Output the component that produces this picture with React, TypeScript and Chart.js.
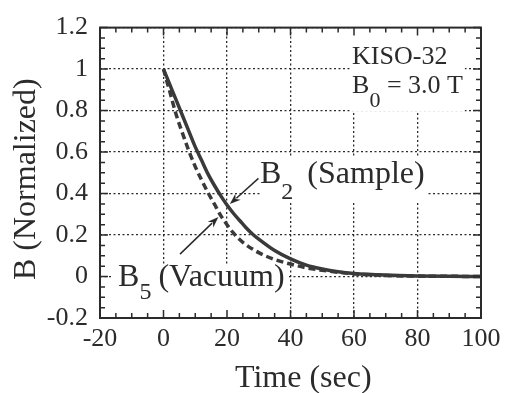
import React, { useEffect, useRef } from "react";
import { Chart, registerables } from "chart.js";

Chart.register(...registerables);

// ---- data ----
const sampleTime = [0, 2, 4, 6, 8, 10, 12, 14, 16, 18, 20, 22, 24, 26, 28, 30, 35, 40, 45, 50, 55, 60, 70, 80, 90, 100];
const sampleB = [1, 0.925, 0.85, 0.775, 0.7, 0.625, 0.56, 0.495, 0.44, 0.39, 0.345, 0.305, 0.27, 0.235, 0.205, 0.18, 0.125, 0.085, 0.055, 0.036, 0.023, 0.015, 0.007, 0.003, 0.001, 0];

const vacuumTime = [0, 2, 4, 6, 8, 10, 12, 14, 16, 18, 20, 22, 25, 30, 35, 40, 45, 50, 60, 70, 80, 90, 100];
const vacuumB = [1, 0.89, 0.78, 0.69, 0.605, 0.53, 0.465, 0.405, 0.35, 0.295, 0.25, 0.21, 0.165, 0.115, 0.082, 0.06, 0.042, 0.03, 0.013, 0.005, 0.002, 0.001, 0];

const xTicks = [-20, 0, 20, 40, 60, 80, 100];
const xTickLabels = ["-20", "0", "20", "40", "60", "80", "100"];
const yTicks = [-0.2, 0, 0.2, 0.4, 0.6, 0.8, 1, 1.2];
const yTickLabels = ["-0.2", "0", "0.2", "0.4", "0.6", "0.8", "1", "1.2"];

const xTitle = "Time (sec)";
const yTitle = "B (Normalized)";
const infoLine1 = "KISO-32";
const infoLine2 = { main: "B", sub: "0", rest: " = 3.0 T" };
const sampleLabel = { main: "B", sub: "2", rest: "(Sample)" };
const vacuumLabel = { main: "B", sub: "5", rest: "(Vacuum)" };

// ---- styles / layout (data coordinates for annotations) ----
const FONT = "'Liberation Serif', 'Times New Roman', Times, serif";
const INK = "#2b2b2b";
const CURVE = "#3a3a3a";

const infoBox = { x0: 58.7, x1: 94.9, y0: 1.2, y1: 0.795 };
const infoPos1 = { x: 59.4, y: 1.023 };
const infoPos2 = { x: 59.4, y: 0.884 };
const sampleBox = { x0: 31.0, x1: 83.0, y0: 0.572, y1: 0.363 };
const samplePos = { x: 30.4, y: 0.451 };
const vacuumBox = { x0: -15.9, x1: 39.3, y0: 0.06, y1: -0.2 };
const vacuumPos = { x: -14.3, y: -0.047 };
const sampleArrow = { fromX: 29.9, fromY: 0.473, toX: 20.9, toY: 0.349 };
const vacuumArrow = { fromX: 5.2, fromY: 0.108, toX: 17.3, toY: 0.287 };

function drawLabel(ctx, x, y, lab, size, subSize, subDrop, gap) {
  ctx.textAlign = "left";
  ctx.textBaseline = "alphabetic";
  ctx.font = `${size}px ${FONT}`;
  ctx.fillText(lab.main, x, y);
  let cx = x + ctx.measureText(lab.main).width;
  ctx.font = `${subSize}px ${FONT}`;
  ctx.fillText(lab.sub, cx, y + subDrop);
  cx += ctx.measureText(lab.sub).width + gap;
  ctx.font = `${size}px ${FONT}`;
  ctx.fillText(lab.rest, cx, y);
}

function drawArrow(ctx, x1, y1, x2, y2) {
  const ang = Math.atan2(y2 - y1, x2 - x1);
  const len = 11;
  const hw = 4;
  ctx.strokeStyle = INK;
  ctx.fillStyle = INK;
  ctx.lineWidth = 1.5;
  ctx.setLineDash([]);
  ctx.beginPath();
  ctx.moveTo(x1, y1);
  ctx.lineTo(x2 - Math.cos(ang) * len * 0.8, y2 - Math.sin(ang) * len * 0.8);
  ctx.stroke();
  ctx.beginPath();
  ctx.moveTo(x2, y2);
  ctx.lineTo(x2 - Math.cos(ang) * len - Math.sin(ang) * hw, y2 - Math.sin(ang) * len + Math.cos(ang) * hw);
  ctx.lineTo(x2 - Math.cos(ang) * len * 0.7, y2 - Math.sin(ang) * len * 0.7);
  ctx.lineTo(x2 - Math.cos(ang) * len + Math.sin(ang) * hw, y2 - Math.sin(ang) * len - Math.cos(ang) * hw);
  ctx.closePath();
  ctx.fill();
}

const annotPlugin = {
  id: "annot",
  beforeDatasetsDraw(chart) {
    const { ctx, scales } = chart;
    const xs = scales.x;
    const ys = scales.y;
    ctx.save();
    ctx.fillStyle = "#ffffff";
    for (const b of [infoBox, sampleBox, vacuumBox]) {
      const x0 = xs.getPixelForValue(b.x0);
      const x1 = xs.getPixelForValue(b.x1);
      const y0 = ys.getPixelForValue(b.y0);
      const y1 = ys.getPixelForValue(b.y1);
      ctx.fillRect(x0, y0, x1 - x0, y1 - y0);
    }
    ctx.restore();
  },
  afterDatasetsDraw(chart) {
    const { ctx, scales, chartArea } = chart;
    const xs = scales.x;
    const ys = scales.y;
    const px = (v) => xs.getPixelForValue(v);
    const py = (v) => ys.getPixelForValue(v);
    ctx.save();
    ctx.fillStyle = INK;

    // info text
    ctx.font = `26px ${FONT}`;
    ctx.textAlign = "left";
    ctx.textBaseline = "alphabetic";
    ctx.fillText(infoLine1, px(infoPos1.x), py(infoPos1.y));
    drawLabel(ctx, px(infoPos2.x), py(infoPos2.y), infoLine2, 26, 22, 14, 0);

    // curve labels
    ctx.fillStyle = INK;
    drawLabel(ctx, px(samplePos.x), py(samplePos.y), sampleLabel, 32, 24, 16, 14);
    drawLabel(ctx, px(vacuumPos.x), py(vacuumPos.y), vacuumLabel, 32, 24, 13, 7);

    drawArrow(ctx, px(sampleArrow.fromX), py(sampleArrow.fromY), px(sampleArrow.toX), py(sampleArrow.toY));
    drawArrow(ctx, px(vacuumArrow.fromX), py(vacuumArrow.fromY), px(vacuumArrow.toX), py(vacuumArrow.toY));

    // frame
    const { left, right, top, bottom } = chartArea;
    ctx.strokeStyle = INK;
    ctx.lineWidth = 2;
    ctx.setLineDash([]);
    ctx.strokeRect(left, top, right - left, bottom - top);

    // inward tick marks (major + minor)
    ctx.lineWidth = 1.5;
    ctx.beginPath();
    for (let i = 0; i <= 24; i++) {
      const v = -20 + i * 5;
      const L = i % 4 === 0 ? 8 : 5;
      const x = px(v);
      ctx.moveTo(x, bottom);
      ctx.lineTo(x, bottom - L);
      ctx.moveTo(x, top);
      ctx.lineTo(x, top + L);
    }
    for (let i = 0; i <= 28; i++) {
      const v = -0.2 + i * 0.05;
      const L = i % 4 === 0 ? 8 : 5;
      const y = py(v);
      ctx.moveTo(left, y);
      ctx.lineTo(left + L, y);
      ctx.moveTo(right, y);
      ctx.lineTo(right - L, y);
    }
    ctx.stroke();

    // axis titles
    ctx.fillStyle = INK;
    ctx.font = `32px ${FONT}`;
    ctx.textAlign = "left";
    ctx.textBaseline = "alphabetic";
    ctx.fillText(xTitle, left + 135, bottom + 69);
    ctx.save();
    ctx.translate(left - 65, bottom - 38);
    ctx.rotate(-Math.PI / 2);
    ctx.fillText(yTitle, 0, 0);
    ctx.restore();

    ctx.restore();
  },
};

export default function App() {
  const ref = useRef<HTMLCanvasElement | null>(null);

  useEffect(() => {
    document.body.style.margin = "0";
    const canvas = ref.current;
    if (!canvas) return;
    const chart = new Chart(canvas, {
      type: "line",
      data: {
        datasets: [
          {
            label: "B2 (Sample)",
            data: sampleTime.map((t, i) => ({ x: t, y: sampleB[i] })),
            borderColor: CURVE,
            borderWidth: 3.5,
            pointRadius: 0,
            cubicInterpolationMode: "monotone",
            fill: false,
          },
          {
            label: "B5 (Vacuum)",
            data: vacuumTime.map((t, i) => ({ x: t, y: vacuumB[i] })),
            borderColor: CURVE,
            borderWidth: 3.5,
            borderDash: [7, 4],
            pointRadius: 0,
            cubicInterpolationMode: "monotone",
            fill: false,
          },
        ],
      },
      options: {
        responsive: false,
        animation: false,
        events: [],
        layout: { padding: { top: 17, right: 39, left: 0, bottom: 0 } },
        plugins: { legend: { display: false }, tooltip: { enabled: false } },
        scales: {
          x: {
            type: "linear",
            min: -20,
            max: 100,
            afterFit: (s) => {
              s.height = 75;
            },
            afterBuildTicks: (s) => {
              s.ticks = xTicks.map((v) => ({ value: v }));
            },
            ticks: {
              callback: (v) => xTickLabels[xTicks.indexOf(v)],
              font: { family: FONT, size: 26 },
              color: INK,
              padding: 6,
              maxRotation: 0,
              autoSkip: false,
            },
            grid: { color: INK, lineWidth: 1.3, drawTicks: false },
            border: { display: false, dash: [2, 2.5] },
          },
          y: {
            type: "linear",
            min: -0.2,
            max: 1.2,
            afterFit: (s) => {
              s.width = 100;
            },
            afterBuildTicks: (s) => {
              s.ticks = yTicks.map((v) => ({ value: v }));
            },
            ticks: {
              callback: (v) => yTickLabels[yTicks.indexOf(v)],
              font: { family: FONT, size: 26 },
              color: INK,
              padding: 12,
              autoSkip: false,
            },
            grid: { color: INK, lineWidth: 1.3, drawTicks: false },
            border: { display: false, dash: [2, 2.5] },
          },
        },
      },
      plugins: [annotPlugin],
    });
    return () => chart.destroy();
  }, []);

  return (
    <div style={{ width: 520, height: 393, background: "#fff" }}>
      <canvas ref={ref} width={520} height={393} style={{ display: "block" }} />
    </div>
  );
}
